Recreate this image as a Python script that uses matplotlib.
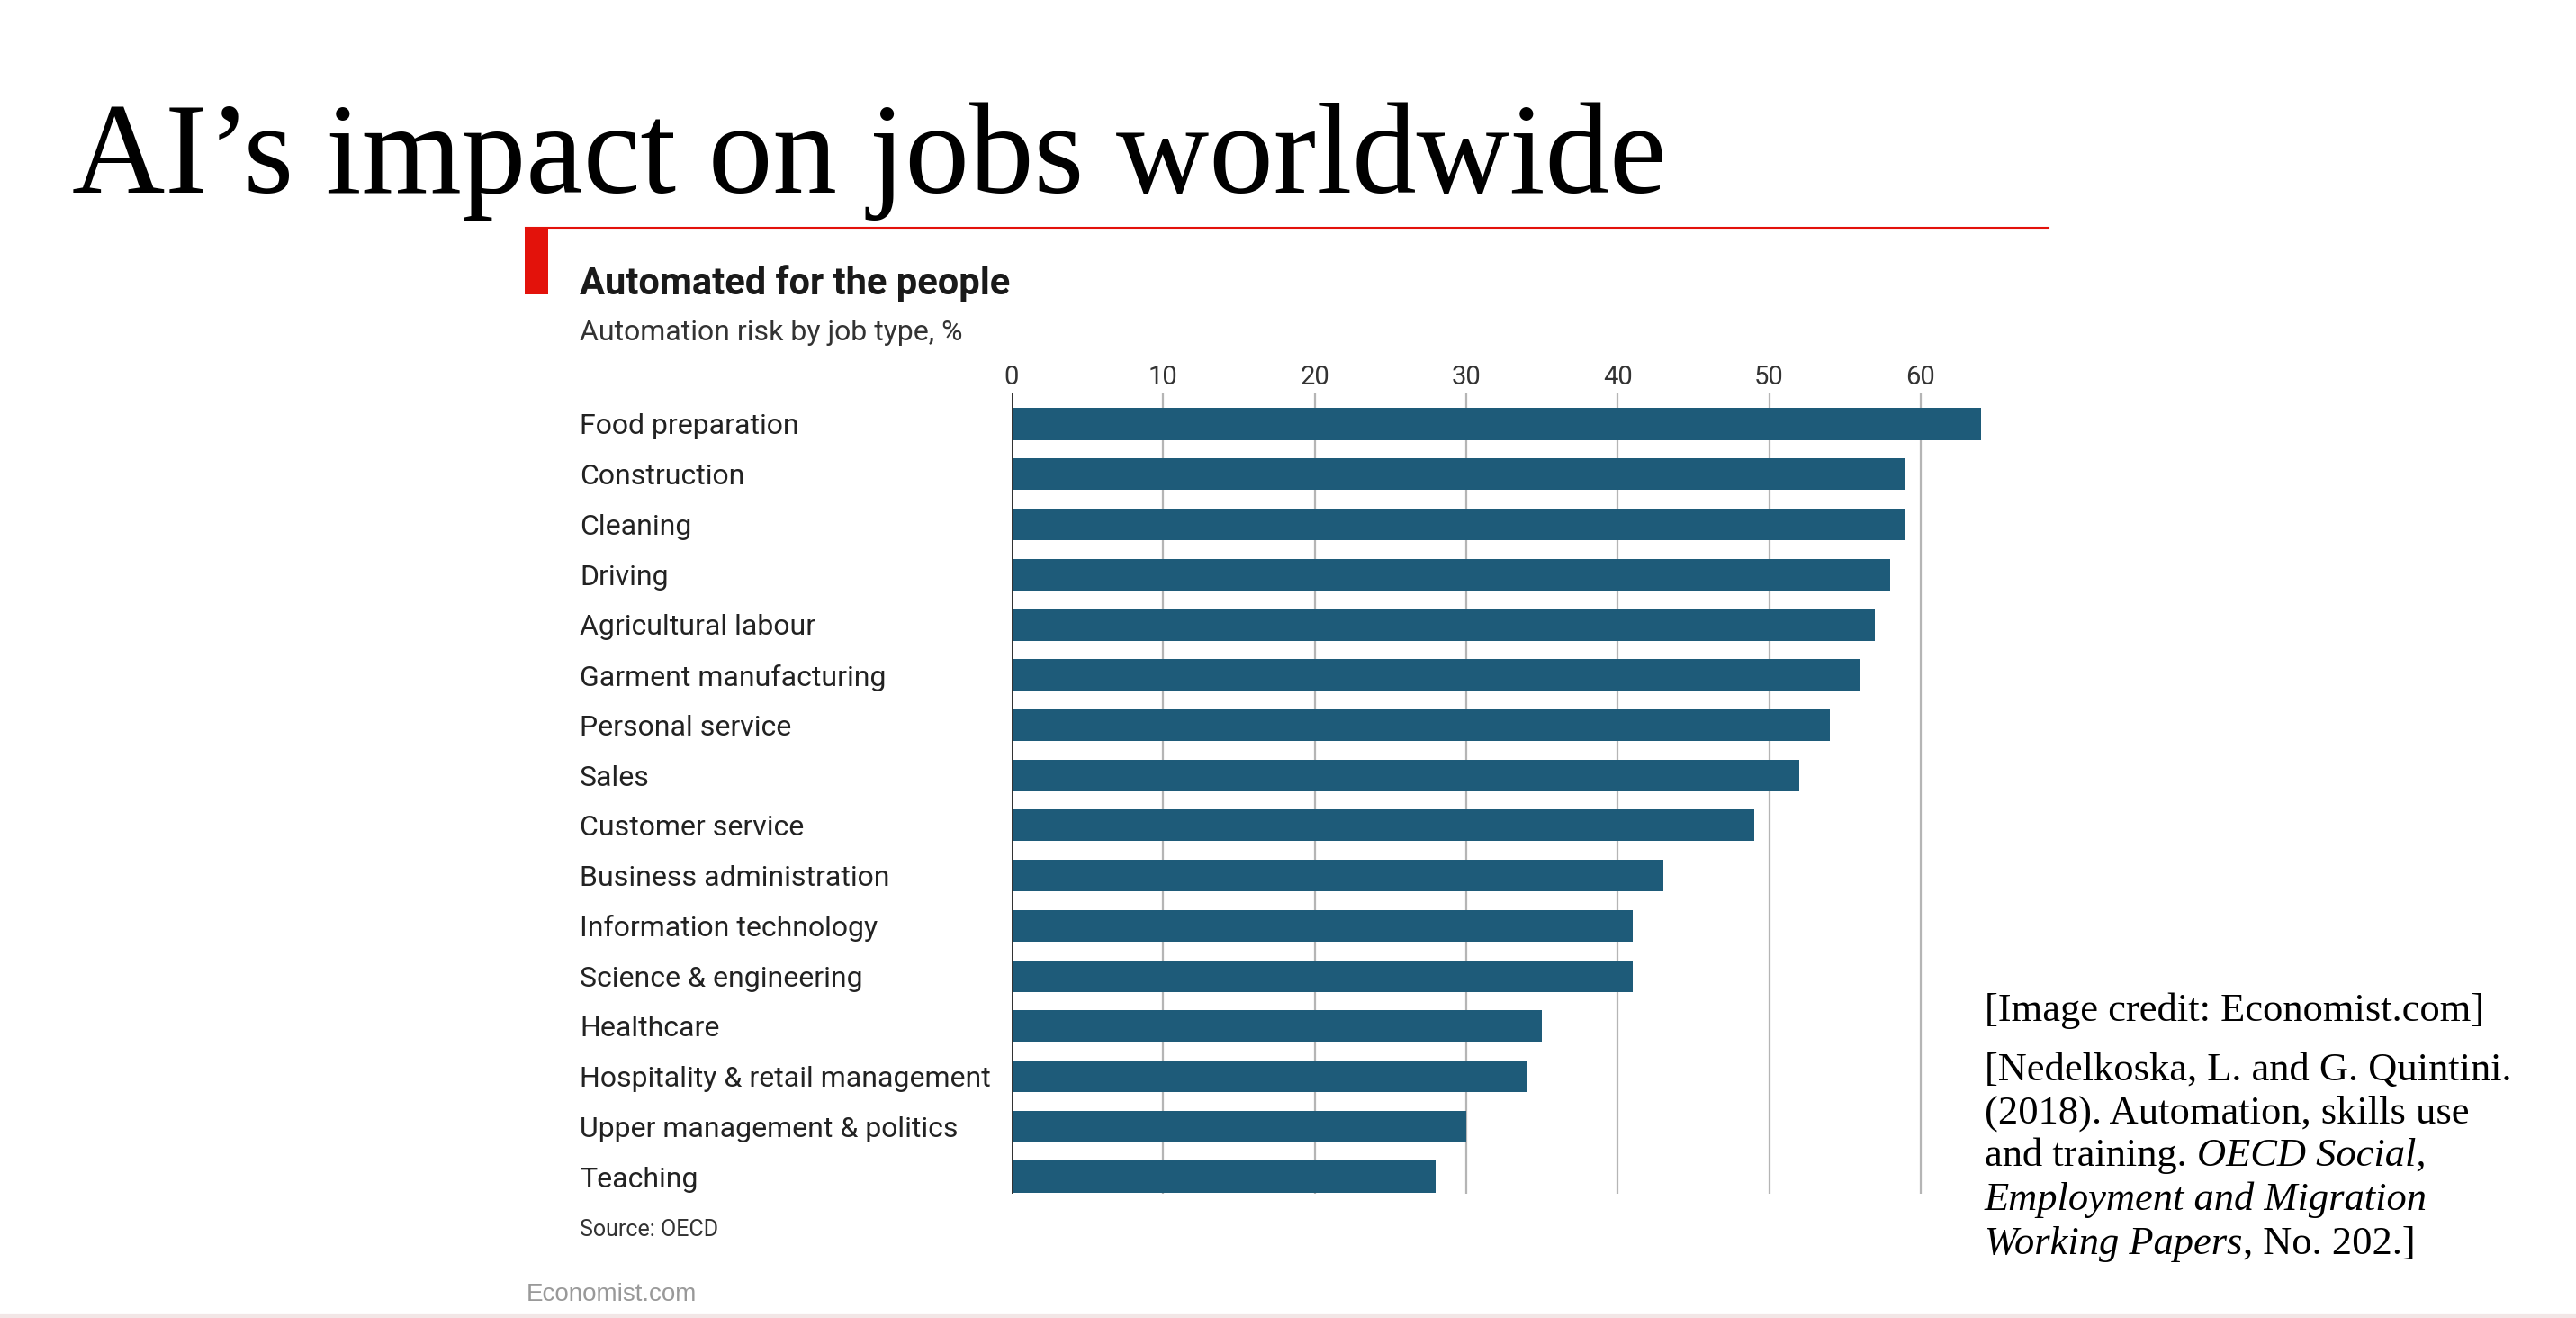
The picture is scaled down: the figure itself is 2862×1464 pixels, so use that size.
import matplotlib
matplotlib.use('Agg')
import matplotlib.pyplot as plt
from matplotlib.patches import Rectangle
from matplotlib.lines import Line2D

jobs = ['Food preparation', 'Construction', 'Cleaning', 'Driving',
        'Agricultural labour', 'Garment manufacturing', 'Personal service',
        'Sales', 'Customer service', 'Business administration',
        'Information technology', 'Science & engineering', 'Healthcare',
        'Hospitality & retail management', 'Upper management & politics',
        'Teaching']
risk = [64, 59, 59, 58, 57, 56, 54, 52, 49, 43, 41, 41, 35, 34, 30, 28]
ticks = [0, 10, 20, 30, 40, 50, 60]

W, H = 2862, 1464
sans = 'Roboto'
serif = 'Liberation Serif'


def fx(x):
    return x / W


def fy(y):
    return 1 - y / H


fig = plt.figure(figsize=(W / 100, H / 100), dpi=100)
fig.patch.set_facecolor('white')

# slide title
fig.text(fx(80), fy(214), 'AI\u2019s impact on jobs worldwide', family=serif,
         fontsize=103, color='black', va='baseline')

# economist header: red line + block
fig.add_artist(Line2D([fx(584), fx(2276)], [fy(253), fy(253)],
                      color='#e3120b', lw=1.5))
fig.add_artist(Rectangle((fx(583), fy(327)), fx(26), 74 / H,
                         color='#e3120b', lw=0))
fig.text(fx(644), fy(327), 'Automated for the people', family=sans,
         fontweight='bold', fontsize=30, color='#1a1a1a', va='baseline')
fig.text(fx(644), fy(378), 'Automation risk by job type, %', family=sans,
         fontsize=23, color='#333333', va='baseline')

# bar chart
x0, x1 = 1124, 2235
y0, y1 = 437, 1326
ax = fig.add_axes([fx(x0), fy(y1), (x1 - x0) / W, (y1 - y0) / H])
xmax = (x1 - x0) / 16.83
ax.set_xlim(0, xmax)
ax.set_ylim(15.34, -0.61)
for t in ticks[1:]:
    ax.axvline(t, color='#b5b5b5', lw=1.6, zorder=0)
ax.barh(range(len(jobs)), risk, height=0.63, color='#1e5b79', zorder=2)
ax.axvline(0, color='#333333', lw=1.6, zorder=3)

ax.xaxis.tick_top()
ax.set_xticks(ticks)
ax.set_xticklabels([str(t) for t in ticks], family=sans, fontsize=21,
                   color='#333333')
ax.set_yticks(range(len(jobs)))
ax.set_yticklabels(jobs, family=sans, fontsize=23, color='#222222')
for lbl in ax.get_yticklabels():
    lbl.set_horizontalalignment('left')
ax.tick_params(axis='x', length=0, pad=3)
ax.tick_params(axis='y', length=0, pad=(x0 - 644) * 0.72)
for s in ax.spines.values():
    s.set_visible(False)
ax.patch.set_alpha(0)

fig.text(fx(644), fy(1373), 'Source: OECD', family=sans, fontsize=18,
         color='#333333', va='baseline')
fig.text(fx(585), fy(1445), 'Economist.com', family='Liberation Sans',
         fontsize=20, color='#999999', va='baseline')

# citation text on the right
cs = 32
fig.text(fx(2205), fy(1134), '[Image credit: Economist.com]', family=serif,
         fontsize=cs, va='baseline')
fig.text(fx(2205), fy(1200), '[Nedelkoska, L. and G. Quintini.', family=serif,
         fontsize=cs, va='baseline')
fig.text(fx(2205), fy(1248), '(2018). Automation, skills use', family=serif,
         fontsize=cs, va='baseline')
t1 = fig.text(fx(2205), fy(1295), 'and training.', family=serif,
              fontsize=cs, va='baseline')
fig.text(fx(2205), fy(1344), 'Employment and Migration', family=serif,
         fontsize=cs, style='italic', va='baseline')
t2 = fig.text(fx(2205), fy(1393), 'Working Papers', family=serif,
              fontsize=cs, style='italic', va='baseline')

fig.canvas.draw()
r = fig.canvas.get_renderer()
space = cs * 100 / 72 * 0.25
b1 = t1.get_window_extent(r)
fig.text(fx(b1.x1 + space), fy(1295), 'OECD Social,', family=serif,
         fontsize=cs, style='italic', va='baseline')
b2 = t2.get_window_extent(r)
fig.text(fx(b2.x1 + 1), fy(1393), ', No. 202.]', family=serif,
         fontsize=cs, va='baseline')

# faint strip at the very bottom
fig.add_artist(Line2D([0, 1], [fy(1462), fy(1462)], color='#f2e6e6', lw=3))

fig.savefig('out.png', dpi=100)
